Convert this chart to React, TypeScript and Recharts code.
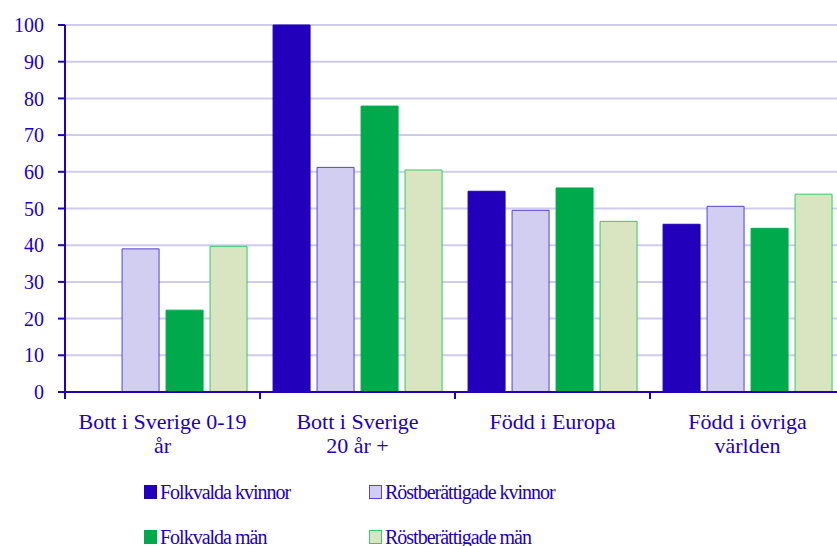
import React from 'react';
import { BarChart, Bar, XAxis, YAxis, CartesianGrid, Legend } from 'recharts';

const categories = ['Bott i Sverige 0-19 år', 'Bott i Sverige 20 år +', 'Född i Europa', 'Född i övriga världen'];
const categoryLines = [
  ['Bott i Sverige 0-19', 'år'],
  ['Bott i Sverige', '20 år +'],
  ['Född i Europa'],
  ['Född i övriga', 'världen'],
];
const folkvaldaKvinnor = [0, 100, 54.7, 45.7];
const rostKvinnor = [39.0, 61.2, 49.5, 50.6];
const folkvaldaMan = [22.3, 77.9, 55.6, 44.6];
const rostMan = [39.7, 60.5, 46.5, 53.9];
const yTicks = [0, 10, 20, 30, 40, 50, 60, 70, 80, 90, 100];

const series = [
  { key: 'fk', name: 'Folkvalda kvinnor', values: folkvaldaKvinnor, fill: '#2200BB', stroke: '#2200BB' },
  { key: 'rk', name: 'Röstberättigade kvinnor', values: rostKvinnor, fill: '#D2CEF2', stroke: '#5544CC' },
  { key: 'fm', name: 'Folkvalda män', values: folkvaldaMan, fill: '#00AA4C', stroke: '#00AA4C' },
  { key: 'rm', name: 'Röstberättigade män', values: rostMan, fill: '#D9E4C0', stroke: '#33CC66' },
];

const data = categories.map((c, i) => {
  const row: any = { name: c, idx: i };
  series.forEach(s => { row[s.key] = s.values[i]; });
  return row;
});

const TEXT = '#2200BB';
const FONT = '"Liberation Serif", serif';

const CategoryTick = (props: any) => {
  const { x, y, payload, index } = props;
  const half = payload && payload.offset ? payload.offset : 97.5;
  const lines = categoryLines[index] || [payload.value];
  return (
    <g>
      <line x1={x - half} x2={x - half} y1={y} y2={y + 7} stroke={TEXT} strokeWidth={2} />
      {lines.map((l, i) => (
        <text key={i} x={x} y={y + 37 + i * 24} textAnchor="middle" fill={TEXT} fontSize={22} fontFamily={FONT}>
          {l}
        </text>
      ))}
    </g>
  );
};

const LegendBox = () => (
  <div style={{ position: 'relative', width: 837, height: 80, fontFamily: FONT, fontSize: 20, letterSpacing: -1, color: TEXT }}>
    {series.map((s, i) => (
      <div
        key={s.key}
        style={{
          position: 'absolute',
          left: i % 2 === 0 ? 144 : 369,
          top: Math.floor(i / 2) * 45,
          display: 'flex',
          alignItems: 'center',
          whiteSpace: 'nowrap',
          lineHeight: '24px',
        }}
      >
        <span style={{ display: 'inline-block', width: 11, height: 12, background: s.fill, border: `1px solid ${s.stroke}`, marginRight: 3 }} />
        {s.name}
      </div>
    ))}
  </div>
);

export default function App() {
  return (
    <div style={{ position: 'absolute', left: 0, top: 0, width: 837, height: 546, overflow: 'hidden', background: '#fff' }}>
      <BarChart
        width={845}
        height={546}
        data={data}
        margin={{ top: 25, right: 0, left: 0, bottom: 0 }}
        barCategoryGap="6.7%"
        barGap={7}
      >
        <CartesianGrid vertical={false} stroke="#CFCBF0" strokeWidth={2} />
        <XAxis
          dataKey="name"
          height={74}
          interval={0}
          tickSize={0}
          tickMargin={0}
          tick={<CategoryTick />}
          axisLine={{ stroke: TEXT, strokeWidth: 2 }}
          tickLine={false}
        />
        <YAxis
          width={65}
          domain={[0, 100]}
          ticks={yTicks}
          interval={0}
          tickSize={7}
          tickMargin={14}
          axisLine={{ stroke: TEXT, strokeWidth: 2 }}
          tickLine={{ stroke: TEXT, strokeWidth: 2 }}
          tick={{ fill: TEXT, fontSize: 20, fontFamily: FONT }}
        />
        <Legend content={<LegendBox />} wrapperStyle={{ left: 0, top: 480, width: 837 }} />
        {series.map(s => (
          <Bar key={s.key} dataKey={s.key} name={s.name} fill={s.fill} stroke={s.stroke} strokeWidth={1} isAnimationActive={false} />
        ))}
      </BarChart>
    </div>
  );
}
